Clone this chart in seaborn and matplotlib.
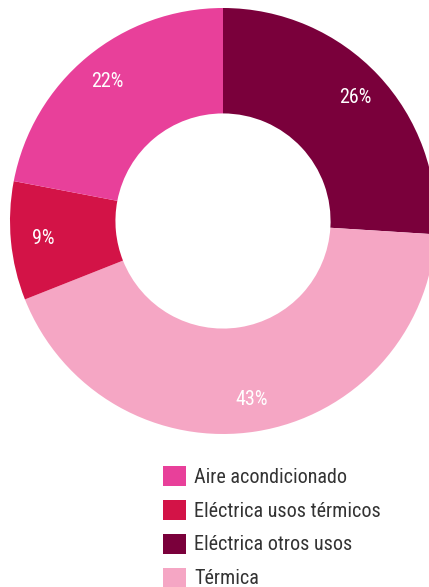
import matplotlib
matplotlib.use("Agg")
import matplotlib.pyplot as plt
from matplotlib.patches import Patch
import seaborn as sns

# Energy consumption share by use
categories = ["Aire acondicionado", "Eléctrica usos térmicos", "Eléctrica otros usos", "Térmica"]
shares = [22, 9, 26, 43]
colors = ["#E8409A", "#D31347", "#7A003B", "#F5A6C4"]

# Drawing order around the ring, clockwise from 12 o'clock
ring_order = ["Eléctrica otros usos", "Térmica", "Eléctrica usos térmicos", "Aire acondicionado"]

sns.set_theme(style="white")
plt.rcParams["font.family"] = ["Roboto Condensed", "Liberation Sans Narrow", "DejaVu Sans"]
plt.rcParams["font.stretch"] = "condensed"

W, H, DPI = 429, 587, 100
fig = plt.figure(figsize=(W / DPI, H / DPI), dpi=DPI)
fig.patch.set_facecolor("white")

# Square axes holding the donut (centre ~ (223, 221) px, radius ~213 px)
cx, cy, R = 223, 221, 213
ax = fig.add_axes([(cx - R) / W, (H - cy - R) / H, 2 * R / W, 2 * R / H])
ax.axis("off")

idx = [categories.index(c) for c in ring_order]
vals = [shares[i] for i in idx]
cols = [colors[i] for i in idx]

wedges, texts = ax.pie(
    vals,
    colors=cols,
    startangle=90,
    counterclock=False,
    radius=1.0,
    wedgeprops=dict(width=0.495, linewidth=0),
    labels=[f"{v}%" for v in vals],
    labeldistance=0.85,
    textprops=dict(color="white", fontsize=14.5, va="center"),
)
for t in texts:
    t.set_horizontalalignment("center")
ax.set_xlim(-1, 1)
ax.set_ylim(-1, 1)

handles = [Patch(facecolor=c, edgecolor="none") for c in colors]
fs = 14.5
fpx = fs * DPI / 72
leg = fig.legend(
    handles, categories,
    loc="upper left",
    bbox_to_anchor=(163 / W, 1 - 466 / H),
    frameon=False,
    fontsize=fs,
    handlelength=23 / fpx,
    handleheight=23 / fpx,
    handletextpad=8 / fpx,
    labelspacing=0.65,
    borderpad=0,
    borderaxespad=0,
)
for t in leg.get_texts():
    t.set_color("#333333")

fig.savefig("out.png", dpi=DPI)
